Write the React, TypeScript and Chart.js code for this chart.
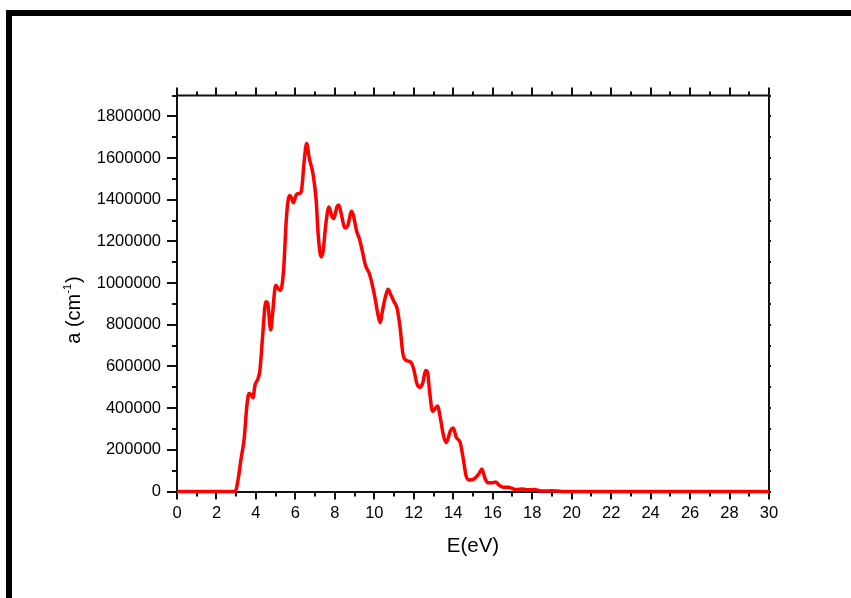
import React, { useEffect, useRef } from 'react';
import { Chart, registerables } from 'chart.js';

Chart.register(...registerables);

// Photon energy (eV)
const energyEV = [
  0, 1, 2, 2.8, 2.95, 3.1, 3.25, 3.4, 3.55, 3.65, 3.75, 3.85, 3.95, 4.1, 4.2, 4.35, 4.5, 4.6, 4.75, 4.85,
  5.0, 5.15, 5.25, 5.4, 5.55, 5.7, 5.8, 5.9, 6.05, 6.2, 6.3, 6.45, 6.57, 6.7, 6.9, 7.05, 7.15, 7.3, 7.4,
  7.55, 7.7, 7.85, 7.95, 8.1, 8.2, 8.35, 8.5, 8.65, 8.85, 8.95, 9.1, 9.25, 9.4, 9.55, 9.75, 9.9, 10.05,
  10.2, 10.3, 10.4, 10.55, 10.7, 10.85, 11.0, 11.15, 11.3, 11.45, 11.6, 11.85, 12.0, 12.15, 12.3, 12.45,
  12.6, 12.7, 12.8, 12.95, 13.1, 13.2, 13.35, 13.5, 13.65, 13.85, 14.0, 14.15, 14.35, 14.5, 14.65, 14.8,
  15.05, 15.3, 15.45, 15.6, 15.75, 16.0, 16.15, 16.35, 16.55, 16.8, 16.95, 17.2, 17.5, 17.8, 18.1, 18.4,
  18.7, 19.0, 19.5, 20, 22, 24, 26, 28, 30,
];

// Absorption coefficient a (cm^-1)
const alphaCm = [
  0, 0, 0, 0, 0, 60000, 160000, 250000, 420000, 470000, 465000, 450000, 510000, 540000, 580000, 760000, 910000, 900000, 775000, 860000,
  990000, 970000, 965000, 1060000, 1320000, 1420000, 1410000, 1385000, 1425000, 1430000, 1440000, 1590000, 1670000, 1600000, 1520000, 1400000, 1240000, 1125000, 1150000,
  1290000, 1365000, 1320000, 1310000, 1365000, 1375000, 1320000, 1265000, 1275000, 1345000, 1320000, 1250000, 1210000, 1150000, 1085000, 1045000, 990000, 920000,
  840000, 810000, 860000, 930000, 970000, 940000, 910000, 880000, 790000, 660000, 630000, 620000, 585000, 520000, 500000, 520000,
  580000, 570000, 480000, 385000, 400000, 410000, 350000, 270000, 235000, 290000, 305000, 260000, 235000, 160000, 75000, 55000,
  60000, 85000, 108000, 65000, 42000, 42000, 45000, 28000, 20000, 20000, 16000, 9000, 12000, 8000, 9000, 3000,
  2000, 4000, 0, 0, 0, 0, 0, 0, 0,
];

const xTickValues = [0, 2, 4, 6, 8, 10, 12, 14, 16, 18, 20, 22, 24, 26, 28, 30];
const yTickValues = [0, 200000, 400000, 600000, 800000, 1000000, 1200000, 1400000, 1600000, 1800000];
const xMin = 0;
const xMax = 30;
const xMinorStep = 1;
const yMin = 0;
const yMax = 1900000;
const yMinorStep = 100000;
const xTitle = 'E(eV)';
const yTitleMain = 'a (cm';
const yTitleSup = '-1';
const yTitleEnd = ')';

const FONT = '"Liberation Sans", Arial, sans-serif';

const framePlugin = {
  id: 'frameTicks',
  beforeDatasetsDraw(chart: any) {
    const { ctx, chartArea } = chart;
    const { left, right, top, bottom } = chartArea;
    const x = chart.scales.x;
    const y = chart.scales.y;
    ctx.save();
    ctx.strokeStyle = '#111';
    ctx.lineWidth = 2;
    ctx.lineCap = 'butt';
    ctx.beginPath();
    ctx.moveTo(left - 1, top);
    ctx.lineTo(right + 1, top);
    ctx.moveTo(right, top);
    ctx.lineTo(right, bottom + 1);
    for (let v = xMin; v <= xMax + 1e-9; v += xMinorStep) {
      const px = Math.round(x.getPixelForValue(v));
      const major = xTickValues.includes(v);
      if (!major) {
        ctx.moveTo(px, bottom);
        ctx.lineTo(px, bottom + 5);
      }
      ctx.moveTo(px, top);
      ctx.lineTo(px, top - (major ? 8 : 4));
    }
    for (let v = yMin; v <= yMax + 1e-6; v += yMinorStep) {
      const py = Math.round(y.getPixelForValue(v));
      const major = yTickValues.includes(v);
      if (!major) {
        ctx.moveTo(left, py);
        ctx.lineTo(left - 5, py);
      }
      ctx.moveTo(right, py);
      ctx.lineTo(right + 2, py);
    }
    ctx.stroke();
    ctx.restore();
  },
  afterDraw(chart: any) {
    const { ctx, chartArea } = chart;
    ctx.save();
    ctx.fillStyle = '#000';
    ctx.font = `20.5px ${FONT}`;
    ctx.textAlign = 'center';
    ctx.textBaseline = 'alphabetic';
    ctx.fillText(xTitle, (chartArea.left + chartArea.right) / 2, 552);
    const mainFont = `20px ${FONT}`;
    const supFont = `11px ${FONT}`;
    ctx.font = mainFont;
    const w1 = ctx.measureText(yTitleMain).width;
    const w3 = ctx.measureText(yTitleEnd).width;
    ctx.font = supFont;
    const w2 = ctx.measureText(yTitleSup).width;
    const total = w1 + w2 + w3 + 1;
    ctx.translate(80, 310);
    ctx.rotate(-Math.PI / 2);
    ctx.textAlign = 'left';
    let cx = -total / 2;
    ctx.font = mainFont;
    ctx.fillText(yTitleMain, cx, 0);
    cx += w1;
    ctx.font = supFont;
    ctx.fillText(yTitleSup, cx, -9.5);
    cx += w2 + 1;
    ctx.font = mainFont;
    ctx.fillText(yTitleEnd, cx, 0);
    ctx.restore();
  },
};

export default function App() {
  const canvasRef = useRef<HTMLCanvasElement | null>(null);

  useEffect(() => {
    const canvas = canvasRef.current;
    if (!canvas) return;
    const points = energyEV.map((e, i) => ({ x: e, y: alphaCm[i] }));
    const chart = new Chart(canvas, {
      type: 'line',
      data: {
        datasets: [
          {
            data: points,
            borderColor: '#ff0000',
            borderWidth: 3.5,
            pointRadius: 0,
            fill: false,
            cubicInterpolationMode: 'monotone',
            clip: false as any,
          },
        ],
      },
      options: {
        animation: false,
        responsive: false,
        devicePixelRatio: 1,
        events: [],
        layout: { padding: { left: 77, top: 95.5, right: 82, bottom: 66.5 } },
        plugins: {
          legend: { display: false },
          tooltip: { enabled: false },
        },
        scales: {
          x: {
            type: 'linear',
            min: xMin,
            max: xMax,
            afterFit: (scale: any) => {
              scale.height = 40;
            },
            afterBuildTicks: (scale: any) => {
              scale.ticks = xTickValues.map((v) => ({ value: v }));
            },
            ticks: {
              autoSkip: false,
              maxRotation: 0,
              color: '#000',
              padding: 4,
              font: { family: FONT, size: 16.5 },
              callback: (v: any) => String(v),
            },
            grid: {
              display: true,
              drawOnChartArea: false,
              drawTicks: true,
              tickLength: 8,
              tickWidth: 2,
              tickColor: '#111',
              color: '#111',
              lineWidth: 2,
            },
            border: { display: true, color: '#111', width: 2 },
          },
          y: {
            type: 'linear',
            min: yMin,
            max: yMax,
            afterFit: (scale: any) => {
              scale.width = 100;
            },
            afterBuildTicks: (scale: any) => {
              scale.ticks = yTickValues.map((v) => ({ value: v }));
            },
            ticks: {
              autoSkip: false,
              color: '#000',
              padding: 6,
              font: { family: FONT, size: 16.5 },
              callback: (v: any) => String(v),
            },
            grid: {
              display: true,
              drawOnChartArea: false,
              drawTicks: true,
              tickLength: 10,
              tickWidth: 2,
              tickColor: '#111',
              color: '#111',
              lineWidth: 2,
            },
            border: { display: true, color: '#111', width: 2 },
          },
        },
      },
      plugins: [framePlugin],
    });
    return () => chart.destroy();
  }, []);

  return (
    <div style={{ position: 'fixed', left: 0, top: 0, width: 851, height: 598, background: '#fff', overflow: 'hidden' }}>
      <div
        style={{
          position: 'absolute',
          left: 6,
          top: 10,
          width: 900,
          height: 700,
          borderTop: '6px solid #000',
          borderLeft: '6px solid #000',
          boxSizing: 'border-box',
        }}
      />
      <canvas ref={canvasRef} width={851} height={598} style={{ position: 'absolute', left: 0, top: 0, width: 851, height: 598 }} />
    </div>
  );
}
